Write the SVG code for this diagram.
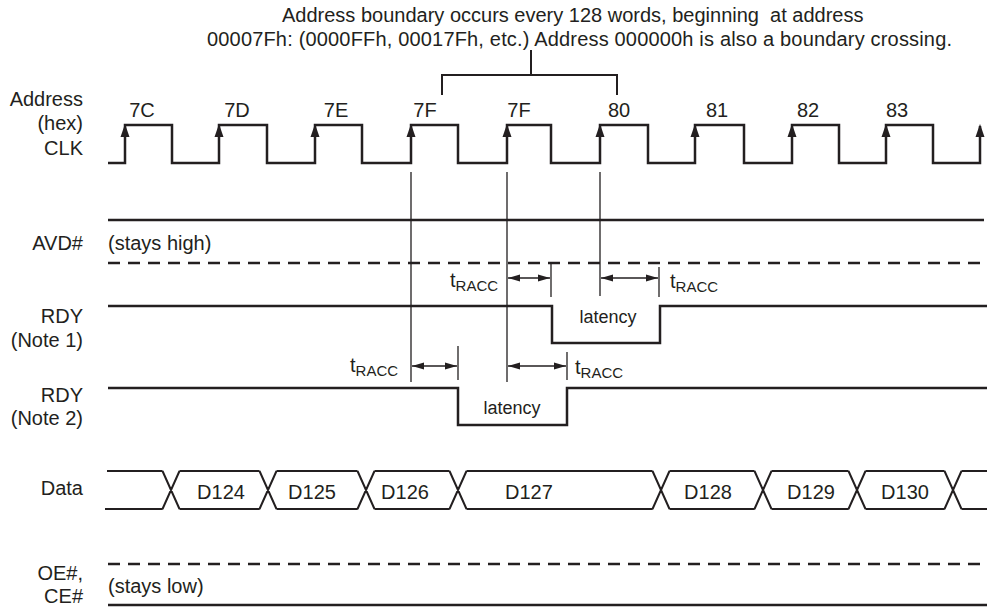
<svg xmlns="http://www.w3.org/2000/svg" width="987" height="607" viewBox="0 0 987 607">
<style>
text{font-family:"Liberation Sans",Arial,Helvetica,sans-serif;fill:#231f20;font-size:20px}
.end{text-anchor:end}
.mid{text-anchor:middle}
.sm{font-size:18px}
.sub{font-size:15px}
.sig{fill:none;stroke:#231f20;stroke-width:2.5;stroke-linejoin:miter}
.bus{fill:none;stroke:#231f20;stroke-width:2}
.dash{fill:none;stroke:#231f20;stroke-width:2.5;stroke-dasharray:12 8}
.ref{fill:none;stroke:#231f20;stroke-width:1.3}
.dim{fill:none;stroke:#231f20;stroke-width:1.3;marker-start:url(#ah);marker-end:url(#ah)}
.clkarr{fill:#231f20}
</style>
<defs>
<marker id="ah" markerUnits="userSpaceOnUse" markerWidth="14" markerHeight="10" refX="12" refY="4" orient="auto-start-reverse" viewBox="0 0 14 8">
<path d="M0,0.5 L12,4 L0,7.5 Z" fill="#231f20"/>
</marker>
</defs>

<g id="title">
<text x="282" y="22" xml:space="preserve">Address boundary occurs every 128 words, beginning  at address</text>
<text x="207" y="46" textLength="745" lengthAdjust="spacing">00007Fh: (0000FFh, 00017Fh, etc.) Address 000000h is also a boundary crossing.</text>
</g>

<g id="connectors">
<path class="bus" d="M531,50 V75 M442,95 V75 H617 V95"/>
<path class="ref" d="M411,172 V382 M507,172 V382 M600,172 V296"/>
<path class="dim" d="M412,366 H457"/>
<path class="ref" d="M458,346 V380"/>
<path class="dim" d="M508,366 H566"/>
<path class="ref" d="M567,352 V380"/>
<path class="dim" d="M508,278 H550"/>
<path class="ref" d="M551,263 V297"/>
<path class="dim" d="M601,278 H658"/>
<path class="ref" d="M659,267 V297"/>
</g>

<g id="clk">
<text class="end" x="83" y="106">Address</text>
<text class="end" x="83" y="130">(hex)</text>
<text class="end" x="83" y="155">CLK</text>
<path class="sig" d="M108,163 H125 V125 H172 V163 H219 V125 H267 V163 H315 V125 H362 V163 H411 V125 H458 V163 H507 V125 H551 V163 H600 V125 H648 V163 H695 V125 H744 V163 H792 V125 H839 V163 H886 V125 H933 V163 H980 V126"/>
<g class="clkarr">
<polygon points="125,124 120.5,137 129.5,137"/>
<polygon points="219,124 214.5,137 223.5,137"/>
<polygon points="315,124 310.5,137 319.5,137"/>
<polygon points="411,124 406.5,137 415.5,137"/>
<polygon points="507,124 502.5,137 511.5,137"/>
<polygon points="600,124 595.5,137 604.5,137"/>
<polygon points="695,124 690.5,137 699.5,137"/>
<polygon points="792,124 787.5,137 796.5,137"/>
<polygon points="886,124 881.5,137 890.5,137"/>
<polygon points="980,124 975.5,137 984.5,137"/>
</g>
<text class="mid" x="142" y="117">7C</text>
<text class="mid" x="237" y="117">7D</text>
<text class="mid" x="336" y="117">7E</text>
<text class="mid" x="425" y="117">7F</text>
<text class="mid" x="519" y="117">7F</text>
<text class="mid" x="619" y="117">80</text>
<text class="mid" x="717" y="117">81</text>
<text class="mid" x="808" y="117">82</text>
<text class="mid" x="897" y="117">83</text>
</g>

<g id="avd">
<text class="end" x="83" y="250">AVD#</text>
<text x="108" y="250">(stays high)</text>
<path class="sig" d="M108,220 H984"/>
<path class="dash" d="M108,263 H986"/>
</g>

<g id="tracc-labels">
<text x="450" y="287">t<tspan class="sub" dy="4">RACC</tspan></text>
<text x="670" y="288">t<tspan class="sub" dy="4">RACC</tspan></text>
<text x="350" y="372">t<tspan class="sub" dy="4">RACC</tspan></text>
<text x="575" y="374">t<tspan class="sub" dy="4">RACC</tspan></text>
</g>

<g id="rdy1">
<text class="end" x="83" y="323">RDY</text>
<text class="end" x="83" y="347">(Note 1)</text>
<path class="sig" d="M108,306 H552 V343 H660 V306 H987"/>
<text class="sm mid" x="608" y="323">latency</text>
</g>

<g id="rdy2">
<text class="end" x="83" y="402">RDY</text>
<text class="end" x="83" y="425">(Note 2)</text>
<path class="sig" d="M108,388 H458 V425 H567 V388 H987"/>
<text class="sm mid" x="512" y="414">latency</text>
</g>

<g id="data">
<text class="end" x="83" y="495">Data</text>
<path class="bus" d="M107,471 H162.5 M179.5,471 H259.5 M276.5,471 H357.5 M374.5,471 H449.5 M466.5,471 H652.5 M669.5,471 H754.5 M771.5,471 H848.5 M865.5,471 H944.5 M961.5,471 H987 M105,509 H162.5 M179.5,509 H259.5 M276.5,509 H357.5 M374.5,509 H449.5 M466.5,509 H652.5 M669.5,509 H754.5 M771.5,509 H848.5 M865.5,509 H944.5 M961.5,509 H987 M162.5,471 L179.5,509 M162.5,509 L179.5,471 M259.5,471 L276.5,509 M259.5,509 L276.5,471 M357.5,471 L374.5,509 M357.5,509 L374.5,471 M449.5,471 L466.5,509 M449.5,509 L466.5,471 M652.5,471 L669.5,509 M652.5,509 L669.5,471 M754.5,471 L771.5,509 M754.5,509 L771.5,471 M848.5,471 L865.5,509 M848.5,509 L865.5,471 M944.5,471 L961.5,509 M944.5,509 L961.5,471"/>
<text class="mid" x="221" y="499">D124</text>
<text class="mid" x="312" y="499">D125</text>
<text class="mid" x="405" y="499">D126</text>
<text x="505" y="499">D127</text>
<text class="mid" x="708" y="499">D128</text>
<text class="mid" x="811" y="499">D129</text>
<text class="mid" x="905" y="499">D130</text>
</g>

<g id="oe-ce">
<text class="end" x="83" y="580">OE#,</text>
<text class="end" x="83" y="603">CE#</text>
<text x="108" y="593">(stays low)</text>
<path class="dash" d="M108,564 H987"/>
<path class="sig" d="M108,605 H987"/>
</g>
</svg>
